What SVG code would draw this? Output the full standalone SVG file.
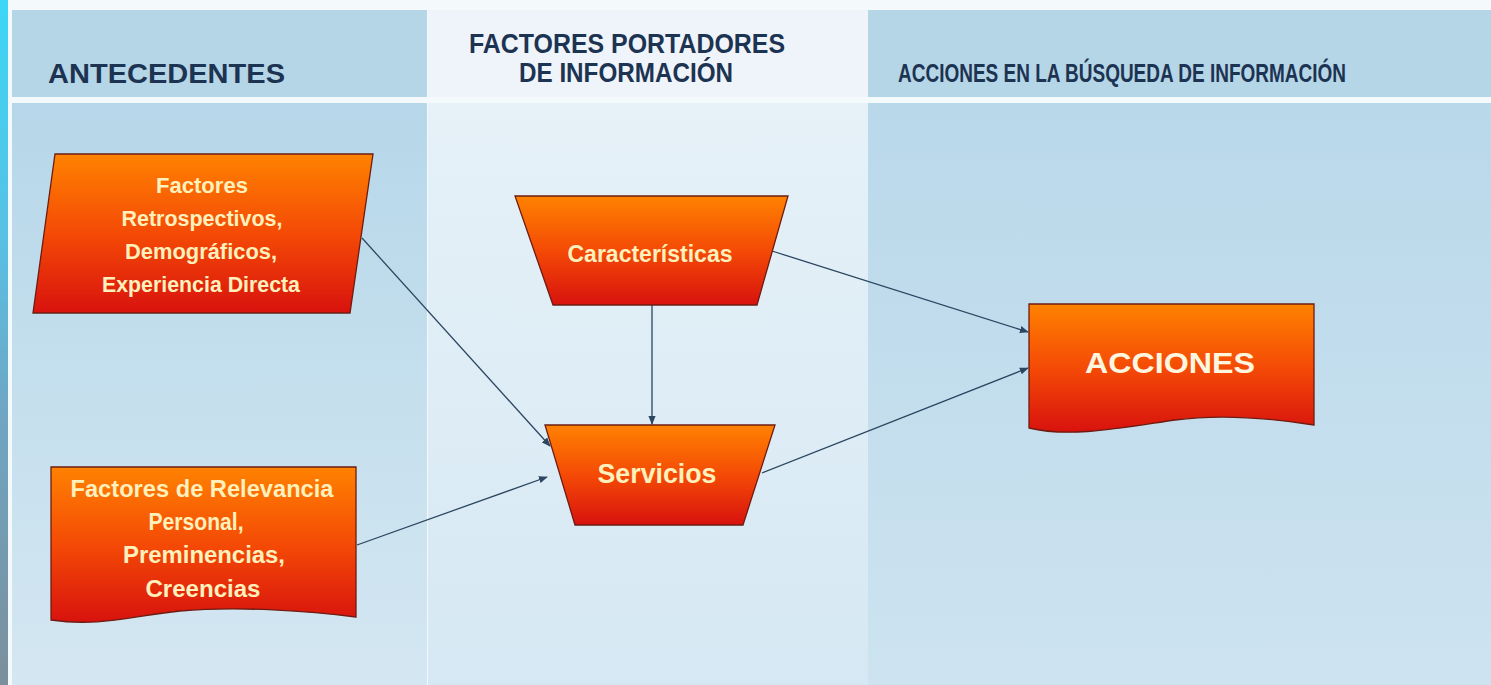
<svg xmlns="http://www.w3.org/2000/svg" width="1491" height="685" viewBox="0 0 1491 685">
<defs>
<linearGradient id="node" x1="0" y1="0" x2="0" y2="1">
<stop offset="0" stop-color="#ff8200"/>
<stop offset="0.5" stop-color="#f44a06"/>
<stop offset="1" stop-color="#d8120e"/>
</linearGradient>
<linearGradient id="strip" x1="0" y1="0" x2="0" y2="1">
<stop offset="0" stop-color="#3cd6f6"/>
<stop offset="0.35" stop-color="#58c0e4"/>
<stop offset="0.6" stop-color="#6fa6c4"/>
<stop offset="1" stop-color="#7b8f9c"/>
</linearGradient>
<linearGradient id="c1" x1="0" y1="0" x2="0" y2="1">
<stop offset="0" stop-color="#b6d7e9"/>
<stop offset="1" stop-color="#d4e7f2"/>
</linearGradient>
<linearGradient id="c2" x1="0" y1="0" x2="0" y2="1">
<stop offset="0" stop-color="#e6f1f8"/>
<stop offset="1" stop-color="#d6e8f3"/>
</linearGradient>
<linearGradient id="c3" x1="0" y1="0" x2="0" y2="1">
<stop offset="0" stop-color="#b9d8ea"/>
<stop offset="1" stop-color="#cde3f0"/>
</linearGradient>
<marker id="arr" viewBox="0 0 10 10" refX="9" refY="5" markerWidth="9" markerHeight="9" markerUnits="userSpaceOnUse" orient="auto">
<path d="M0,1 L10,5 L0,9 Z" fill="#2b4660"/>
</marker>
<style>
.hdr{font-family:"Liberation Sans",Arial,sans-serif;font-weight:bold;fill:#1d3352;}
.nt{font-family:"Liberation Sans",Arial,sans-serif;font-weight:bold;fill:#fff0bc;text-anchor:middle;}
.shape{fill:url(#node);stroke:#6e1c12;stroke-width:1.3;}
.conn{stroke:#2b4660;stroke-width:1.3;fill:none;marker-end:url(#arr);}
</style>
</defs>

<g id="background">
<rect x="0" y="0" width="1491" height="685" fill="#f4f9fc"/>
<rect x="12" y="10" width="415" height="87" fill="#b5d6e7"/>
<rect x="428" y="10" width="440" height="87" fill="#eef4fa"/>
<rect x="868" y="10" width="623" height="87" fill="#b5d6e7"/>
<rect x="12" y="103" width="415" height="582" fill="url(#c1)"/>
<rect x="428" y="103" width="440" height="582" fill="url(#c2)"/>
<rect x="868" y="103" width="623" height="582" fill="url(#c3)"/>
<rect x="0" y="0" width="8" height="685" fill="url(#strip)"/>
</g>

<g id="headers">
<text class="hdr" x="48" y="83" font-size="28" textLength="237" lengthAdjust="spacingAndGlyphs">ANTECEDENTES</text>
<text class="hdr" x="469" y="53" font-size="27" textLength="316" lengthAdjust="spacingAndGlyphs">FACTORES PORTADORES</text>
<text class="hdr" x="519" y="82" font-size="27" textLength="214" lengthAdjust="spacingAndGlyphs">DE INFORMACIÓN</text>
<text class="hdr" x="898" y="82" font-size="25" textLength="448" lengthAdjust="spacingAndGlyphs">ACCIONES EN LA BÚSQUEDA DE INFORMACIÓN</text>
</g>

<g id="connectors">
<line class="conn" x1="362" y1="238" x2="550" y2="446"/>
<line class="conn" x1="357" y1="545" x2="547" y2="477"/>
<line class="conn" x1="652" y1="305" x2="652" y2="424"/>
<line class="conn" x1="772" y1="251" x2="1028" y2="332"/>
<line class="conn" x1="762" y1="473" x2="1028" y2="368"/>
</g>

<g id="node-retrospectivos">
<polygon class="shape" points="55,154 373,154 350,313 33,313"/>
<text class="nt" x="202" y="193" font-size="22" textLength="92" lengthAdjust="spacingAndGlyphs">Factores</text>
<text class="nt" x="202" y="226" font-size="22" textLength="161" lengthAdjust="spacingAndGlyphs">Retrospectivos,</text>
<text class="nt" x="201" y="259" font-size="22" textLength="152" lengthAdjust="spacingAndGlyphs">Demográficos,</text>
<text class="nt" x="201" y="292" font-size="22" textLength="198" lengthAdjust="spacingAndGlyphs">Experiencia Directa</text>
</g>

<g id="node-relevancia">
<path class="shape" d="M51,467 H356 V617 C310,611 240,606 180,611 C130,616 100,627 51,620 Z"/>
<text class="nt" x="202" y="497" font-size="23" textLength="263" lengthAdjust="spacingAndGlyphs">Factores de Relevancia</text>
<text class="nt" x="196" y="530" font-size="23" textLength="95" lengthAdjust="spacingAndGlyphs">Personal,</text>
<text class="nt" x="204" y="563" font-size="23" textLength="162" lengthAdjust="spacingAndGlyphs">Preminencias,</text>
<text class="nt" x="203" y="597" font-size="23" textLength="115" lengthAdjust="spacingAndGlyphs">Creencias</text>
</g>

<g id="node-caracteristicas">
<polygon class="shape" points="515,196 788,196 757,305 553,305"/>
<text class="nt" x="650" y="262" font-size="23" textLength="165" lengthAdjust="spacingAndGlyphs">Características</text>
</g>

<g id="node-servicios">
<polygon class="shape" points="545,425 775,425 743,525 575,525"/>
<text class="nt" x="657" y="483" font-size="27" textLength="119" lengthAdjust="spacingAndGlyphs">Servicios</text>
</g>

<g id="node-acciones">
<path class="shape" d="M1029,304 H1314 V425 C1270,418 1220,414 1175,420 C1120,428 1070,438 1029,428 Z"/>
<text class="nt" x="1170" y="373" font-size="30" textLength="170" lengthAdjust="spacingAndGlyphs" style="fill:#fff6e0">ACCIONES</text>
</g>
</svg>
